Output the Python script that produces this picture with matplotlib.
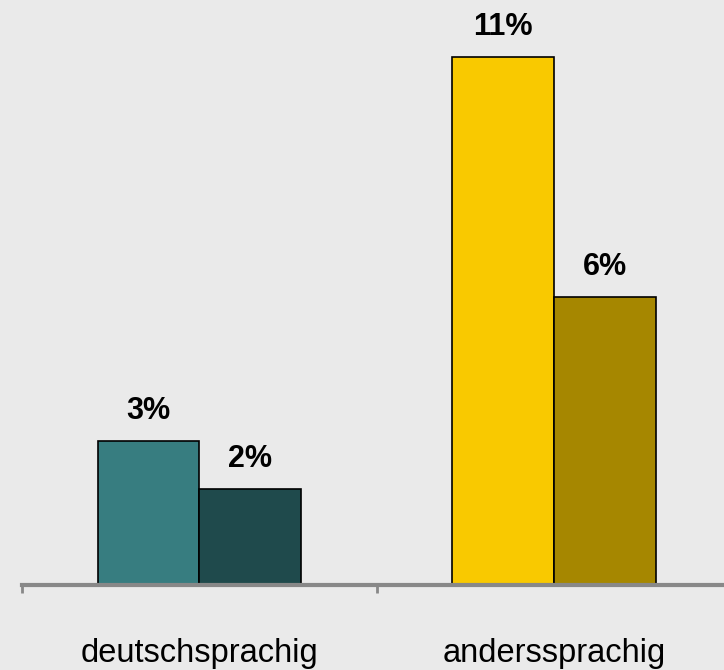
import numpy as np
import matplotlib.pyplot as plt

categories = ["deutschsprachig", "anderssprachig"]
serie_a = [3, 11]
serie_b = [2, 6]
labels_a = ["3%", "11%"]
labels_b = ["2%", "6%"]
colors_a = ["#377D80", "#F9C900"]
colors_b = ["#1F4A4C", "#A68700"]

plt.rcParams['font.family'] = ['Liberation Sans', 'DejaVu Sans']

fig = plt.figure(figsize=(7.24, 6.7), dpi=100)
fig.patch.set_facecolor("#EAEAEA")
ax = fig.add_axes([0, 85 / 670, 1, 585 / 670])
ax.set_facecolor("#EAEAEA")

x = np.arange(len(categories))
w = 0.287
bars_a = ax.bar(x - w / 2, serie_a, w, color=colors_a, edgecolor="black", linewidth=1.2)
bars_b = ax.bar(x + w / 2, serie_b, w, color=colors_b, edgecolor="black", linewidth=1.2)

for bars, labs in ((bars_a, labels_a), (bars_b, labels_b)):
    for b, t in zip(bars, labs):
        ax.annotate(t, (b.get_x() + b.get_width() / 2, b.get_height()),
                    xytext=(0, 11), textcoords="offset points",
                    ha="center", va="bottom", fontsize=22, fontweight="bold")

for s in ["top", "right", "left"]:
    ax.spines[s].set_visible(False)
ax.spines["bottom"].set_color("#888888")
ax.spines["bottom"].set_linewidth(3)

ax.set_yticks([])
ax.set_xticks([-0.5, 0.5, 1.5])
ax.set_xticklabels([])
ax.tick_params(axis="x", direction="out", length=6, width=2, color="#888888")
ax.set_xticks(x, minor=True)
ax.set_xticklabels(categories, minor=True, fontsize=23.5)
ax.tick_params(axis="x", which="minor", length=0, pad=38)

ax.set_xlim(-0.562, 1.479)
ax.set_ylim(0, 585 / 48)
ax.spines["bottom"].set_bounds(-0.5, 1.479)

fig.savefig("out.png", dpi=100, facecolor=fig.get_facecolor())
